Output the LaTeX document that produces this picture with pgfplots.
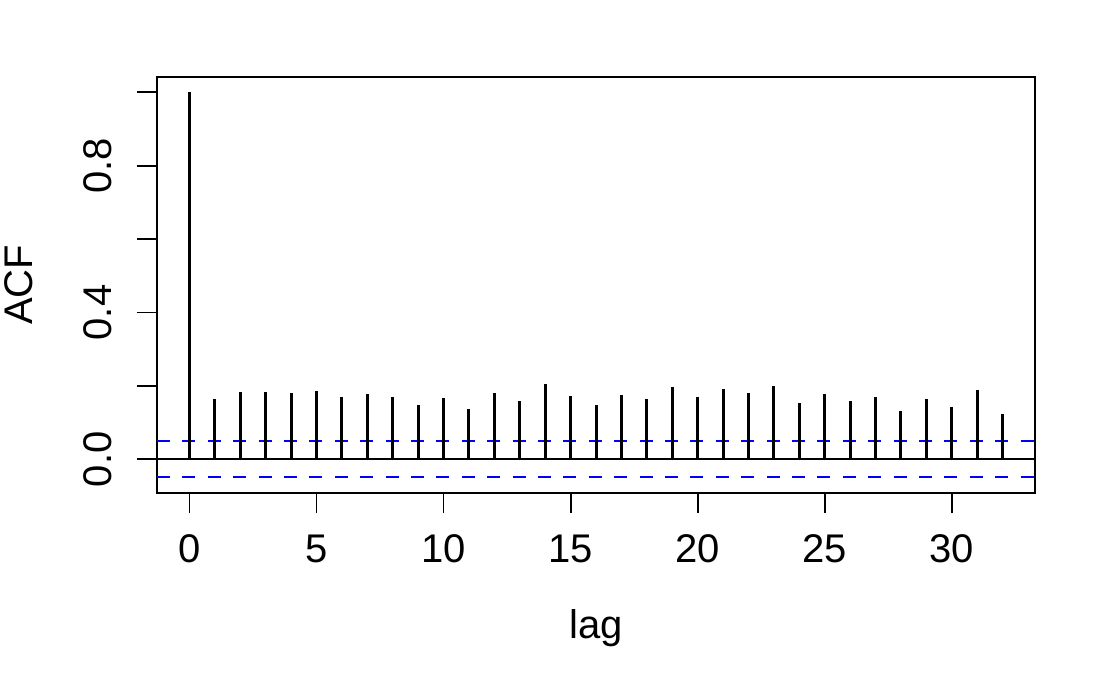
\documentclass[border=0pt]{standalone}
\usepackage{fontspec}
\setmainfont{Liberation Sans}
\usepackage{pgfplots}
\pgfplotsset{compat=1.18}
\begin{document}
\begin{tikzpicture}
\path[use as bounding box] (0,0) rectangle (558bp,344.5bp);
\begin{axis}[
  at={(78.5bp,98bp)}, anchor=south west,
  scale only axis, width=439bp, height=208bp,
  xmin=-1.28, xmax=33.28, ymin=-0.0916, ymax=1.0416,
  axis line style={line width=0.9bp},
  xtick={0,5,10,15,20,25,30},
  ytick={0,0.2,0.4,0.6,0.8,1.0},
  yticklabels={0.0,,0.4,,0.8,},
  xtick pos=bottom, ytick pos=left,
  tick align=outside, major tick length=10bp,
  tick style={line width=0.9bp, black},
  /pgf/number format/assume math mode=true,
  every tick label/.append style={font=\fontsize{20bp}{24bp}\selectfont, inner sep=0pt, text height=14.5bp, text depth=0pt},
  xticklabel style={anchor=north, yshift=-10bp},
  yticklabel style={rotate=90, anchor=south, yshift=12.5bp},
  xlabel={lag}, ylabel={ACF},
  label style={font=\fontsize{20bp}{24bp}\selectfont, inner sep=0pt},
  xlabel style={at={(axis description cs:0.5,0)}, anchor=center, yshift=-67.5bp},
  ylabel style={at={(axis description cs:0,0.5)}, anchor=center, yshift=69bp},
  clip=true,
]
\addplot[black, line width=0.9bp] coordinates {(-1.28,0) (33.28,0)};
\addplot[blue, line width=0.9bp, dash pattern=on 6.5bp off 6.2bp] coordinates {(-1.28,0.049) (33.28,0.049)};
\addplot[blue, line width=0.9bp, dash pattern=on 6.5bp off 6.2bp] coordinates {(-1.28,-0.049) (33.28,-0.049)};
\addplot[ycomb, black, line width=1.5bp, mark=none] coordinates {
(0,1.000) (1,0.165) (2,0.184) (3,0.183) (4,0.180) (5,0.186) (6,0.170) (7,0.179)
(8,0.171) (9,0.149) (10,0.166) (11,0.137) (12,0.181) (13,0.159) (14,0.204) (15,0.173)
(16,0.149) (17,0.176) (18,0.165) (19,0.198) (20,0.170) (21,0.193) (22,0.182) (23,0.201)
(24,0.154) (25,0.177) (26,0.160) (27,0.170) (28,0.132) (29,0.165) (30,0.144) (31,0.190)
(32,0.124)};
\end{axis}
\end{tikzpicture}
\end{document}
